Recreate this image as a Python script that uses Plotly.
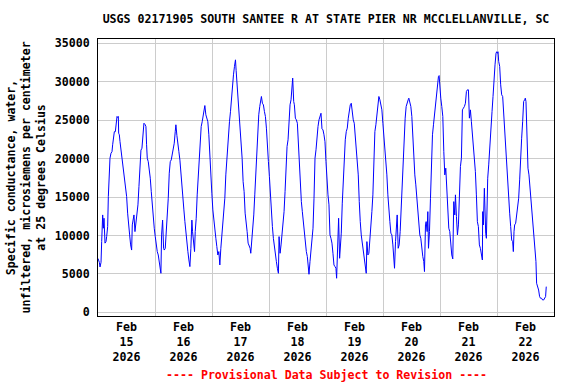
import pandas as pd
import plotly.graph_objects as go

title_text = "USGS 02171905 SOUTH SANTEE R AT STATE PIER NR MCCLELLANVILLE, SC"
y_title_lines = ["Specific conductance, water,",
                 "unfiltered, microsiemens per centimeter",
                 "at 25 degrees Celsius"]
footer_text = "---- Provisional Data Subject to Revision ----"
start_time = "2026-02-15 00:00"
end_time = "2026-02-23 00:00"
y_ticks = [0, 5000, 10000, 15000, 20000, 25000, 30000, 35000]

# hours since 2026-02-15 00:00 (EST) and specific conductance (uS/cm)
hours_from_start = [
    0.00, 0.57, 0.85, 1.27, 1.55, 1.97, 2.25, 2.53, 2.95, 3.37, 3.65, 4.07, 4.35, 4.77, 5.05, 5.47,
    5.89, 6.17, 6.45, 6.88, 7.30, 7.58, 8.00, 8.28, 8.56, 8.70, 8.98, 9.26, 9.68, 10.10, 10.38, 10.80,
    11.22, 11.64, 12.06, 12.48, 12.90, 13.32, 13.74, 14.16, 14.44, 14.86, 15.14, 15.56, 15.98, 16.40,
    16.82, 17.24, 17.66, 18.08, 18.50, 18.92, 19.34, 19.76, 20.18, 20.46, 20.74, 21.16, 21.58, 22.01,
    22.43, 22.85, 23.27, 23.69, 24.11, 24.53, 24.95, 25.37, 25.79, 26.21, 26.49, 26.77,
    27.20, 27.62, 27.90, 28.32, 28.74, 29.16, 29.58, 30.00, 30.42, 30.84, 31.26, 31.68, 32.10, 32.52,
    32.80, 33.22, 33.64, 34.06, 34.49, 34.91, 35.33, 35.75, 36.17, 36.59, 37.01, 37.43, 37.85, 38.27,
    38.69, 39.11, 39.53, 39.81, 40.23, 40.65, 40.93, 41.35, 41.77, 42.19, 42.61, 43.03, 43.45, 43.87,
    44.29, 44.71, 44.99, 45.41, 45.83, 46.25, 46.67, 47.09, 47.51, 47.93, 48.36, 48.78, 49.20, 49.62,
    50.04, 50.46, 50.88, 51.30, 51.72, 52.14, 52.56, 52.98, 53.40, 53.82, 54.24, 54.66,
    54.94, 55.36, 55.78, 56.20, 56.62, 57.04, 57.46, 57.88, 58.16, 58.58, 59.00, 59.42, 59.84, 60.26,
    60.68, 61.10, 61.52, 61.95, 62.37, 62.79, 63.21, 63.63, 64.05, 64.33, 64.75, 65.17, 65.59, 66.01,
    66.43, 66.85, 67.27, 67.69, 68.11, 68.53, 68.81, 69.23, 69.65, 70.07, 70.49, 70.91, 71.33, 71.75,
    72.17, 72.59, 73.01, 73.43, 73.85, 74.27, 74.69, 75.11, 75.53, 75.96, 76.24, 76.66, 77.08, 77.50,
    77.92, 78.34, 78.76, 79.18, 79.60, 80.02, 80.44, 80.86, 81.28, 81.70, 81.98, 82.40,
    82.68, 83.10, 83.52, 83.94, 84.36, 84.78, 85.20, 85.62, 86.04, 86.46, 86.88, 87.30, 87.72, 88.14,
    88.56, 88.84, 89.26, 89.69, 90.11, 90.53, 90.95, 91.37, 91.79, 92.21, 92.63, 93.05, 93.47, 93.89,
    94.31, 94.73, 95.15, 95.57, 95.99, 96.41, 96.83, 97.25, 97.67, 98.09, 98.51, 98.93, 99.35, 99.77,
    100.19, 100.47, 100.89, 101.31, 101.73, 102.01, 102.43, 102.85, 103.27, 103.70, 104.12, 104.54,
    104.96, 105.38, 105.80, 106.22, 106.64, 107.06, 107.48, 107.90, 108.32, 108.74, 109.16, 109.58,
    110.00, 110.28,
    110.42, 110.84, 111.26, 111.68, 112.10, 112.52, 112.94, 113.22, 113.64, 114.06, 114.48, 114.90,
    115.32, 115.74, 116.16, 116.58, 117.00, 117.43, 117.85, 118.27, 118.69, 119.11, 119.53, 119.95,
    120.37, 120.79, 121.21, 121.63, 122.05, 122.47, 122.89, 123.31, 123.73, 124.15, 124.57, 124.85,
    125.27, 125.69, 125.97, 126.39, 126.81, 127.23, 127.65, 128.07, 128.49, 128.91, 129.33, 129.75,
    130.17, 130.60, 130.88, 131.30, 131.72, 132.14, 132.56, 132.98, 133.40, 133.82, 134.24, 134.66,
    135.08, 135.50, 135.92, 136.34, 136.76, 137.18, 137.46, 137.88,
    138.17, 138.59, 138.87, 139.15, 139.57, 139.99, 140.41, 140.83, 141.25, 141.67, 142.09, 142.51,
    142.93, 143.35, 143.63, 143.91, 144.33, 144.75, 145.18, 145.60, 146.02, 146.44, 146.86, 147.28,
    147.70, 148.12, 148.54, 148.96, 149.38, 149.80, 150.22, 150.50, 150.92, 151.34, 151.76, 152.18,
    152.60, 153.02, 153.44, 153.86, 154.28, 154.70, 155.12, 155.54, 155.96, 156.38, 156.80, 157.22,
    157.64, 158.06, 158.48, 158.90, 159.32, 159.74, 160.16, 160.58, 161.00, 161.42, 161.84, 161.98,
    162.26, 162.68, 162.96, 163.24, 163.53, 163.81, 164.09, 164.51, 164.93, 165.35, 165.63,
    165.91, 166.33, 166.75, 167.17, 167.59, 167.87, 168.15, 168.43, 168.71, 169.13, 169.55, 169.97,
    170.39, 170.81, 171.23, 171.65, 172.08, 172.50, 172.92, 173.34, 173.76, 174.18, 174.60, 174.88,
    175.16, 175.44, 175.86, 176.28, 176.70, 177.12, 177.54, 177.96, 178.38, 178.80, 179.22, 179.64,
    179.92, 180.20, 180.62, 181.04, 181.46, 181.88, 182.30, 182.72, 183.14, 183.56, 183.98, 184.40,
    184.68, 185.10, 185.52, 185.94, 186.36, 186.78, 187.20, 187.62, 188.04, 188.46, 188.74,
]

conductance = [
    7000, 6500, 5900, 6500, 9200, 12670, 10940, 12240, 9000, 9200, 9850, 11150, 15060, 17880, 20050, 20700,
    20900, 21800, 22650, 23500, 23500, 24170, 25480, 25350, 25480, 23300, 23100, 22220, 21100, 20050, 19600, 18300,
    17000, 16580, 15060, 12900, 11800, 10070, 8770, 8100, 11370, 12020, 12670, 10500, 11590, 12460,
    13980, 16360, 19600, 21100, 21350, 22650, 24600, 24470, 24170, 21800, 20050, 19600, 18750, 17450,
    15700, 13760, 12460, 10940, 9850, 8550, 7900, 7460, 6380, 5080, 5080, 10070,
    12000, 8330, 8100, 8330, 10070, 13100, 14840, 18100, 19600, 19830, 20480, 21350, 22000, 23500,
    24400, 23000, 21570, 20900, 19800, 17880, 16580, 14840, 13320, 11800, 10070, 8770, 7900, 6810,
    5950, 8330, 12000, 10500, 9400, 7900, 10500, 12240, 15280, 17660, 19600, 22870, 24170, 24800,
    25900, 26780, 26900, 25700, 25260, 24800, 23100, 20050, 17230, 15500, 13320, 11800, 10940, 9630,
    8550, 7460, 7900, 6160, 8330, 10070, 10940, 12670, 14840, 17880, 20050, 22650,
    23100, 24800, 26100, 28080, 29160, 30900, 32000, 32850, 31460, 29600, 27860, 26780, 24800, 22200,
    20050, 17000, 15700, 12900, 11150, 10500, 9000, 8550, 8330, 7680, 9200, 10940, 12670, 15280,
    17880, 22000, 24400, 25700, 26780, 27430, 28080, 27200, 26990, 26130, 25480, 23960, 20480, 19600,
    17660, 14840, 12670, 11150, 9630, 8330, 7460, 6600, 5730, 5080, 9850, 7680, 8770, 10070,
    11590, 13100, 15700, 18750, 21570, 22440, 25040, 27000, 27650, 29160, 30470, 27430,
    27000, 25260, 25040, 24600, 21570, 19600, 17000, 14400, 13100, 11590, 10940, 9200, 7900, 7250,
    6160, 4950, 6600, 8100, 9630, 10940, 14840, 20050, 21140, 23100, 24170, 25040, 25480, 25900,
    23870, 23740, 23100, 22200, 19600, 16360, 15280, 13980, 10070, 9630, 9000, 7680, 6160, 5950,
    5730, 4430, 10500, 12240, 7030, 8330, 10300, 14200, 17450, 20050, 22440, 23520,
    23960, 25260, 26130, 27000, 27200, 25700, 25040, 24600, 23100, 21350, 19600, 17880,
    14400, 12000,
    11800, 10070, 9000, 8100, 7460, 6160, 5080, 9200, 7460, 7680, 10070, 10940,
    13100, 15280, 20700, 23520, 24400, 25700, 27650, 28080, 27650, 27000, 26340, 24600,
    23100, 21350, 19600, 17880, 15280, 13980, 11800, 10300, 10070, 8770, 7460, 5730,
    9200, 11590, 12670, 8330, 8770, 10500, 13540, 15280, 20480, 23100, 25260, 26780,
    27430, 27650, 27860, 27200, 26780, 25480, 22200, 19600, 17880, 16580, 14840, 13760,
    12000, 10070, 9630, 8100, 7250, 6600, 5300, 11370,
    11800, 10500, 13100, 8330, 10500, 14840, 20480, 23100, 24400, 25700, 27200, 27860,
    29160, 30680, 30800, 29160, 27860, 26780, 25480, 20900, 17880, 18750, 16140, 14400,
    10940, 10500, 8770, 7460, 6950, 14400, 12670, 15280, 12460, 10070, 11370, 15280,
    18970, 20050, 26340, 26560, 26780, 27200, 28730, 28950, 28950, 25260, 26340, 24800,
    23100, 21570, 19600, 18300, 15280, 11800, 11150, 8770, 8330, 7250, 6810, 13100,
    11370, 16140, 10940, 10300, 9630, 13760, 17450, 19180, 21800, 23520, 25700,
    26130, 28080, 30900, 32200, 33700, 33900, 33700, 33900, 32640, 32000, 29600, 28300,
    28080, 25900, 22650, 21350, 18750, 15700, 13760, 12900, 11150, 9400, 9200, 7900,
    10500, 11370, 11590, 12460, 13540, 14840, 17230, 20900, 22650, 24800, 27430, 27650,
    27860, 27430, 23520, 18750, 17880, 16140, 13980, 13100, 10940, 8770, 8330, 6600,
    3780, 3340, 2900, 2040, 1820, 1820, 1600, 1600, 1820, 2040, 3340,
]

times = pd.Timestamp(start_time) + pd.to_timedelta(hours_from_start, unit="h")

font_family = "DejaVu Sans Mono"
fsize = 11.6
bold_font = dict(family=font_family, size=fsize, color="black", weight="bold")

fig = go.Figure()
fig.add_trace(go.Scatter(x=times, y=conductance, mode="lines",
                         line=dict(color="#0000ff", width=1), showlegend=False))

fig.update_layout(
    width=576, height=384,
    margin=dict(l=98, r=22, t=39, b=68, autoexpand=False),
    paper_bgcolor="white", plot_bgcolor="white",
    font=bold_font,
    title=dict(text=title_text, x=0.5, xref="paper", y=1 - 19 / 384, yref="container",
               yanchor="middle", xanchor="center", font=bold_font),
)

fig.update_xaxes(
    type="date", range=[start_time, end_time], automargin=False,
    dtick=86400000, tick0=start_time, ticklabelmode="period",
    tickformat="%b<br>%d<br>%Y",
    showgrid=True, gridcolor="#cccccc", gridwidth=1,
    showline=True, linecolor="black", linewidth=1, mirror=True,
    ticks="", zeroline=False, tickfont=bold_font,
)
fig.update_yaxes(
    range=[-480, 35560], tickvals=y_ticks, ticktext=[str(v) for v in y_ticks],
    automargin=False,
    showgrid=True, gridcolor="#cccccc", gridwidth=1,
    showline=True, linecolor="black", linewidth=1, mirror=True,
    ticks="outside", ticklen=5, tickcolor="rgba(0,0,0,0)", zeroline=False,
    tickfont=bold_font,
)

fig.add_annotation(text="<br>".join(y_title_lines), textangle=-90,
                   xref="paper", yref="paper", x=-0.160, y=0.5,
                   xanchor="center", yanchor="middle", showarrow=False,
                   font=bold_font)
fig.add_annotation(text=footer_text, xref="paper", yref="paper", x=0.5, y=-0.213,
                   xanchor="center", yanchor="middle", showarrow=False,
                   font=dict(family=font_family, size=fsize, color="#ff0000", weight="bold"))

fig.write_html("out.html",
               config={"displayModeBar": False},
               post_script="document.body.style.margin='0';document.body.style.padding='0';")
